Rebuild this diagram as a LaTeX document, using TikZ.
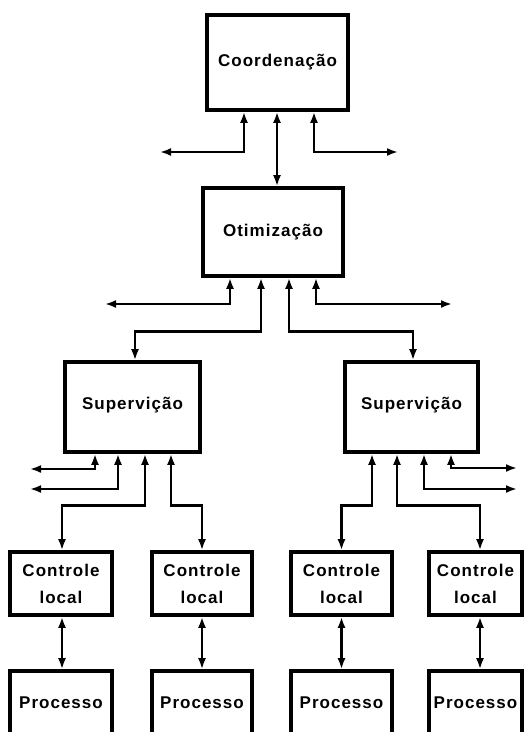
\documentclass[tikz,border=0pt]{standalone}
\usepackage{fontspec}
\newfontfamily\lbl[LetterSpace=6]{Liberation Sans}
\usetikzlibrary{arrows.meta}
\begin{document}
\begin{tikzpicture}[x=1pt,y=1pt,
  box/.style={draw,line width=3.6pt,inner sep=0pt,font=\lbl\bfseries\fontsize{17}{27}\selectfont,align=center},
  dbl/.style={line width=2.8pt,{Latex[length=11pt,width=8pt]}-{Latex[length=11pt,width=8pt]}}]
\clip (0,0) rectangle (526,-732);
\fill[white] (0,0) rectangle (526,-732);
% boxes
\node[box,minimum width=141,minimum height=95] (coord) at (277.5,-62.5) {\raisebox{5pt}{Coordenação}};
\node[box,minimum width=140,minimum height=88] (otim) at (273,-232) {\raisebox{2pt}{Otimização}};
\node[box,minimum width=135,minimum height=90] (supL) at (132.5,-407) {\raisebox{8pt}{Supervição}};
\node[box,minimum width=133,minimum height=90] (supR) at (411.5,-407) {\raisebox{7pt}{Supervição}};
\node[box,minimum width=102,minimum height=63] (ctl1) at (61,-583.5) {Controle\\local};
\node[box,minimum width=100,minimum height=63] (ctl2) at (202,-583.5) {Controle\\local};
\node[box,minimum width=101,minimum height=63] (ctl3) at (341.5,-583.5) {Controle\\local};
\node[box,minimum width=93,minimum height=63] (ctl4) at (475.5,-583.5) {Controle\\local};
\node[box,minimum width=102,minimum height=66] (proc1) at (61,-704) {\raisebox{2pt}{Processo}};
\node[box,minimum width=100,minimum height=66] (proc2) at (202,-704) {\raisebox{2pt}{Processo}};
\node[box,minimum width=101,minimum height=66] (proc3) at (341.5,-704) {\raisebox{2pt}{Processo}};
\node[box,minimum width=93,minimum height=66] (proc4) at (475.5,-704) {\raisebox{2pt}{Processo}};
% free ends
\coordinate (cL) at (160,-152);
\coordinate (cR) at (398,-152);
\coordinate (oL) at (105,-304);
\coordinate (oR) at (452,-304);
\coordinate (sL1) at (30,-469);
\coordinate (sL2) at (30,-489);
\coordinate (sR1) at (517,-468);
\coordinate (sR2) at (517,-489);
% Coordenação
\coordinate (c1) at ([xshift=-33.5pt]coord.south);
\coordinate (c2) at ([xshift=-0.5pt]coord.south);
\coordinate (c3) at ([xshift=36.5pt]coord.south);
\draw[dbl] (c1) |- (cL);
\draw[dbl] (c2) -- (c2 |- otim.north);
\draw[dbl] (c3) |- (cR);
% Otimização
\coordinate (o1) at ([xshift=-43pt]otim.south);
\coordinate (o2) at ([xshift=-12pt]otim.south);
\coordinate (o3) at ([xshift=16pt]otim.south);
\coordinate (o4) at ([xshift=43pt]otim.south);
\draw[dbl] (o1) |- (oL);
\draw[dbl] (o4) |- (oR);
\draw[dbl] (o2) |- ([xshift=2.5pt,yshift=29pt]supL.north) -- ([xshift=2.5pt]supL.north);
\draw[dbl] (o3) |- ([xshift=1.5pt,yshift=29pt]supR.north) -- ([xshift=1.5pt]supR.north);
% Supervição left
\coordinate (l1) at ([xshift=-37.5pt]supL.south);
\coordinate (l2) at ([xshift=-14.5pt]supL.south);
\coordinate (l3) at ([xshift=12.5pt]supL.south);
\coordinate (l4) at ([xshift=38.5pt]supL.south);
\draw[dbl] (l1) |- (sL1);
\draw[dbl] (l2) |- (sL2);
\draw[dbl] (l3) |- ([xshift=1pt,yshift=45pt]ctl1.north) -- ([xshift=1pt]ctl1.north);
\draw[dbl] (l4) |- ([yshift=45pt]ctl2.north) -- (ctl2.north);
% Supervição right
\coordinate (r1) at ([xshift=-39.5pt]supR.south);
\coordinate (r2) at ([xshift=-14.5pt]supR.south);
\coordinate (r3) at ([xshift=12.5pt]supR.south);
\coordinate (r4) at ([xshift=39.5pt]supR.south);
\draw[dbl] (r1) |- ([yshift=45pt]ctl3.north) -- (ctl3.north);
\draw[dbl] (r2) |- ([xshift=4.5pt,yshift=45pt]ctl4.north) -- ([xshift=4.5pt]ctl4.north);
\draw[dbl] (r3) |- (sR2);
\draw[dbl] (r4) |- (sR1);
% Controle - Processo
\draw[dbl] ([xshift=1pt]ctl1.south) -- ([xshift=1pt]proc1.north);
\draw[dbl] (ctl2.south) -- (proc2.north);
\draw[dbl] (ctl3.south) -- (proc3.north);
\draw[dbl] ([xshift=4.5pt]ctl4.south) -- ([xshift=4.5pt]proc4.north);
\end{tikzpicture}
\end{document}
